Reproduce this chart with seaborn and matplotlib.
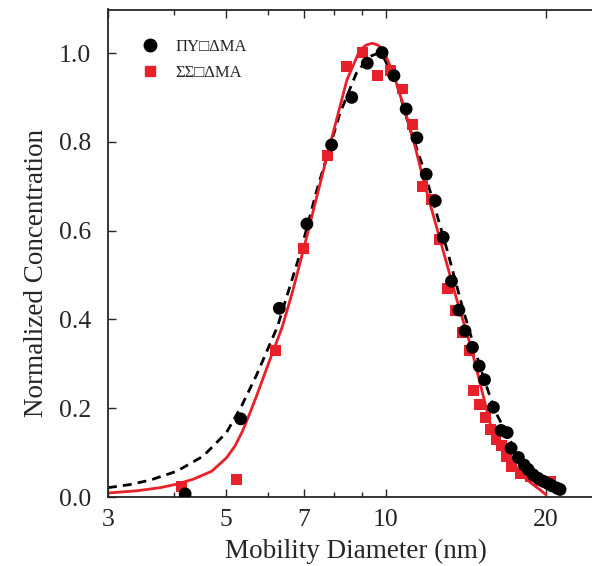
import numpy as np
import pandas as pd
import matplotlib
matplotlib.use("Agg")
import matplotlib.pyplot as plt
import matplotlib.ticker as mticker
from matplotlib.lines import Line2D
import seaborn as sns

# ---- data ----
black_x = [4.19, 5.33, 6.30, 7.10, 7.90, 8.62, 9.22, 9.83, 10.35, 10.91, 11.43, 11.90,
           12.38, 12.81, 13.28, 13.71, 14.08, 14.54, 14.97, 15.32, 15.92, 16.46, 16.90,
           17.19, 17.74, 18.19, 18.51, 18.91, 19.33, 19.78, 20.18, 20.53, 20.97, 21.25]
black_y = [0.007, 0.176, 0.425, 0.615, 0.793, 0.900, 0.977, 1.001, 0.949, 0.874, 0.809, 0.727,
           0.667, 0.585, 0.486, 0.421, 0.374, 0.337, 0.295, 0.264, 0.202, 0.150, 0.145,
           0.110, 0.089, 0.072, 0.062, 0.050, 0.042, 0.035, 0.030, 0.025, 0.020, 0.017]

red_x = [4.13, 5.24, 6.19, 6.99, 7.76, 8.44, 9.04, 9.63, 10.18, 10.73, 11.21, 11.71, 12.16,
         12.58, 13.06, 13.49, 13.92, 14.35, 14.60, 14.97, 15.36, 15.69, 16.10, 16.51, 16.87,
         17.24, 17.87, 18.66, 19.49, 20.35]
red_y = [0.023, 0.040, 0.331, 0.559, 0.769, 0.969, 1.001, 0.949, 0.960, 0.919, 0.840, 0.700,
         0.670, 0.580, 0.470, 0.420, 0.370, 0.331, 0.239, 0.209, 0.180, 0.151, 0.130, 0.117,
         0.091, 0.068, 0.053, 0.046, 0.038, 0.034]

fit_black_x = [3.0, 3.3, 3.6, 4.04, 4.53, 5.01, 5.35, 5.71, 6.25, 6.88, 7.41, 8.19, 8.79, 9.2,
               9.4, 9.6, 9.75, 9.88, 10.47, 11.05, 11.76, 12.13, 13.03, 13.97, 15.03, 15.69,
               16.11, 16.9, 17.7, 18.5, 19.3, 20.2, 21.2]
fit_black_y = [0.021, 0.028, 0.038, 0.058, 0.092, 0.145, 0.205, 0.275, 0.384, 0.545, 0.691,
               0.864, 0.954, 0.985, 0.994, 0.998, 0.997, 0.992, 0.932, 0.835, 0.740, 0.685,
               0.556, 0.421, 0.293, 0.226, 0.189, 0.140, 0.095, 0.062, 0.040, 0.025, 0.015]

fit_red_x = [3.0, 3.4, 3.76, 4.04, 4.34, 4.7, 5.01, 5.2, 5.37, 5.55, 5.71, 6.0, 6.38, 6.68,
             6.99, 7.74, 8.44, 8.93, 9.18, 9.42, 9.65, 9.88, 10.32, 10.75, 11.26, 11.76, 12.54,
             13.59, 14.50, 15.03, 15.69, 16.30, 16.87, 17.50, 18.13, 18.80, 19.49, 20.0]
fit_red_y = [0.009, 0.014, 0.021, 0.029, 0.040, 0.058, 0.088, 0.115, 0.148, 0.190, 0.228,
             0.298, 0.383, 0.465, 0.556, 0.766, 0.939, 1.007, 1.018, 1.022, 1.018, 1.007, 0.954,
             0.887, 0.804, 0.714, 0.594, 0.444, 0.331, 0.256, 0.166, 0.128, 0.098, 0.070,
             0.046, 0.030, 0.016, 0.005]

x_ticks = [3, 5, 7, 10, 20]
x_minor = [4, 6, 8, 9]
y_ticks = [0.0, 0.2, 0.4, 0.6, 0.8, 1.0]
labels = ["ΠΥ□ΔMA", "ΣΣ□ΔMA"]

RED = "#E8202A"

sns.set_style("ticks")
plt.rcParams["font.family"] = ["Liberation Serif", "DejaVu Serif"]

fig = plt.figure(figsize=(5.92, 5.66), dpi=100)
ax = fig.add_axes([108 / 592, 69 / 566, 484 / 592, 487.5 / 566])

df_fb = pd.DataFrame({"x": fit_black_x, "y": fit_black_y})
df_fr = pd.DataFrame({"x": fit_red_x, "y": fit_red_y})
df_b = pd.DataFrame({"x": black_x, "y": black_y})
df_r = pd.DataFrame({"x": red_x, "y": red_y})

sns.lineplot(data=df_fb, x="x", y="y", ax=ax, color="black", lw=2.0, sort=False,
             estimator=None, linestyle=(0, (3.2, 2.2)), zorder=2)
sns.lineplot(data=df_fr, x="x", y="y", ax=ax, color=RED, lw=2.0, sort=False,
             estimator=None, zorder=2)
sns.scatterplot(data=df_r, x="x", y="y", ax=ax, marker="s", s=62, color=RED,
                edgecolor="none", linewidth=0, zorder=3)
sns.scatterplot(data=df_b, x="x", y="y", ax=ax, marker="o", s=85, color="black",
                edgecolor="none", linewidth=0, zorder=4)

ax.set_xscale("log")
ax.set_xlim(3, 24.4)
ax.set_ylim(0, 1.098)
ax.xaxis.set_major_locator(mticker.FixedLocator(x_ticks))
ax.xaxis.set_major_formatter(mticker.FixedFormatter([str(t) for t in x_ticks]))
ax.xaxis.set_minor_locator(mticker.FixedLocator(x_minor))
ax.xaxis.set_minor_formatter(mticker.NullFormatter())
ax.set_yticks(y_ticks)
ax.set_yticklabels([f"{t:.1f}" for t in y_ticks])

ax.tick_params(axis="both", which="major", direction="in", length=6, width=1,
               labelsize=18.5, top=True, right=False)
ax.tick_params(axis="x", which="major", pad=9)
ax.tick_params(axis="y", which="major", pad=12)
ax.tick_params(axis="x", which="minor", direction="in", length=3.5, width=1, top=True)
for s in ["left", "bottom", "top"]:
    ax.spines[s].set_visible(True)
    ax.spines[s].set_linewidth(1.3)
ax.spines["right"].set_visible(False)

ax.set_xlabel("Mobility Diameter (nm)", fontsize=19.5)
ax.set_ylabel("Normalized Concentration", fontsize=19.5)
ax.xaxis.set_label_coords(0.513, -0.085)
ax.yaxis.set_label_coords(-0.122, 0.46)

handles = [
    Line2D([], [], marker="o", color="black", linestyle="none", markersize=9),
    Line2D([], [], marker="s", color=RED, linestyle="none", markersize=7.5),
]
ax.legend(handles, labels, loc="center left", bbox_to_anchor=(0.053, 0.8974),
          frameon=False, fontsize=12, handletextpad=0.5, labelspacing=0.6,
          borderaxespad=0, borderpad=0)

fig.savefig("out.png", dpi=100)
